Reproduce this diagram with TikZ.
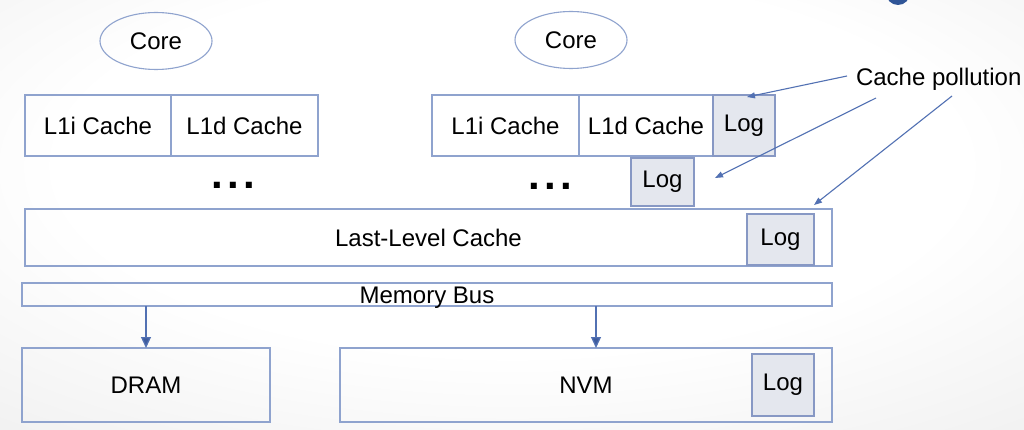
\documentclass[tikz,border=0pt]{standalone}
\usepackage{fontspec}
\setmainfont{Liberation Sans}
\usetikzlibrary{shapes.geometric,arrows.meta}
\definecolor{boxline}{HTML}{8FA3CE}
\definecolor{arrline}{HTML}{5271B3}
\definecolor{arrtip}{HTML}{3E5C9E}
\definecolor{logfill}{HTML}{E4E7EE}
\definecolor{logline}{HTML}{8798C4}
\definecolor{bgg}{HTML}{E0E0E0}
\definecolor{dotblue}{HTML}{2F5597}
\pgfdeclareradialshading{slidebg}{\pgfpoint{0bp}{8bp}}{color(0bp)=(white); color(22bp)=(white); color(60bp)=(bgg); color(80bp)=(bgg)}
\tikzset{
  every node/.style={font=\fontsize{24}{28}\selectfont, inner sep=0pt, outer sep=0pt},
  cbox/.style={draw=boxline, line width=1.2pt, rectangle, anchor=center},
  logbox/.style={draw=logline, fill=logfill, line width=1.2pt, rectangle, anchor=center},
  corebox/.style={draw=boxline, line width=1.1pt, ellipse, minimum width=112pt, minimum height=57pt},
  busarr/.style={draw=arrline, line width=1.3pt, -{Triangle[length=11pt,width=10pt,fill=arrtip]}},
  polarr/.style={draw=arrline, line width=1.1pt, -{Triangle[length=8pt,width=6pt,fill=arrline]}},
  dots/.style={font=\fontsize{42}{42}\selectfont\bfseries}
}
\begin{document}
\begin{tikzpicture}[x=1pt,y=-1pt]
\useasboundingbox (0,0) rectangle (1024,430);
\shade[shading=slidebg] (0,0) rectangle (1024,430);
\begin{scope}
\clip (0,0) rectangle (1024,430);
\fill[dotblue] (898,-7) circle (12);
\end{scope}
% cores
\node[corebox] (core1) at (156,41) {Core};
\node[corebox] (core2) at (571,40) {Core};
% L1 caches left
\node[cbox, minimum width=146pt, minimum height=61pt] (l1ia) at (98,125.5) {L1i Cache};
\node[cbox, minimum width=147pt, minimum height=61pt] (l1da) at (244.5,125.5) {L1d Cache};
% L1 caches right
\node[cbox, minimum width=147pt, minimum height=61pt] (l1ib) at (505.5,125.5) {L1i Cache};
\node[cbox, minimum width=134pt, minimum height=61pt] (l1db) at (646,125.5) {L1d Cache};
\node[logbox, minimum width=62pt, minimum height=61pt] (log1) at (744,125.5) {Log};
% floating log
\node[logbox, minimum width=63pt, minimum height=48pt] (log2) at (662.5,182) {Log};
% dots
\node[dots] (dotsa) at (233,185) {.\kern4.5pt.\kern4.5pt.};
\node[dots] (dotsb) at (550,186) {.\kern4.5pt.\kern4.5pt.};
% LLC
\node[cbox, minimum width=807pt, minimum height=57pt] (llc) at (428.5,237.5) {};
\node (llct) at (428.5,238) {Last-Level Cache};
\node[logbox, minimum width=67pt, minimum height=51pt] (log3) at (780.5,239.5) {Log};
% memory bus
\node[cbox, minimum width=810pt, minimum height=23pt] (bus) at (427,294.5) {};
\node[anchor=base] (bust) at (427,303) {Memory Bus};
% memories
\node[cbox, minimum width=248pt, minimum height=74pt] (dram) at (146,385) {DRAM};
\node[cbox, minimum width=492pt, minimum height=74pt] (nvm) at (586,385) {NVM};
\node[logbox, minimum width=62pt, minimum height=62pt] (log4) at (783,385) {Log};
% bus arrows
\coordinate (nvmx) at (596,0);
\draw[busarr] (bus.south -| dram.north) -- (dram.north);
\draw[busarr] (bus.south -| nvmx) -- (nvm.north -| nvmx);
% cache pollution
\node[anchor=base west] (poll) at (856,86) {Cache pollution};
\coordinate (s1) at (847,76);
\coordinate (s2) at (876,98);
\coordinate (s3) at (952,96);
\coordinate (t2) at (715,178);
\coordinate (t3) at (814,205);
\draw[polarr] (s1) -- ([xshift=3pt,yshift=-2pt]log1.north);
\draw[polarr] (s2) -- (t2);
\draw[polarr] (s3) -- (t3);
\end{tikzpicture}
\end{document}
